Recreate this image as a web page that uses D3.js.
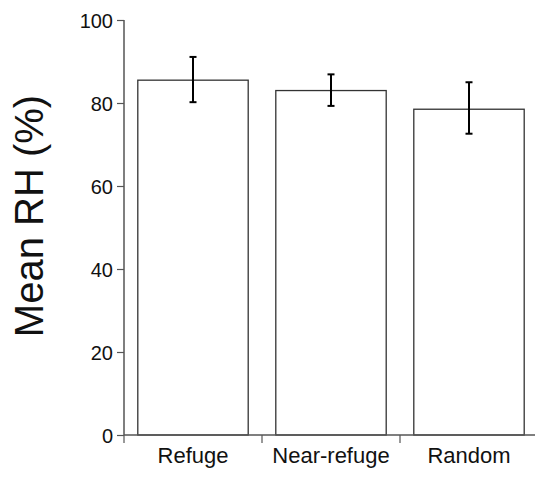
<!DOCTYPE html>
<html>
<head>
<meta charset="utf-8">
<script src="https://cdn.jsdelivr.net/npm/d3@7"></script>
<style>
	body { margin: 0; background: #fff; }
	svg text { font-family: 'Liberation Sans', Arial, Helvetica, sans-serif; fill: #111; }
</style>
</head>
<body>
<svg id="chart" width="535" height="478"></svg>
<script>
const categories = ['Refuge', 'Near-refuge', 'Random']
const means = [85.5, 83.0, 78.5]
const errLow = [80.2, 79.3, 72.6]
const errHigh = [91.1, 86.9, 85.0]
const yTicks = [0, 20, 40, 60, 80, 100]

const svg = d3.select('#chart')
const margin = { left: 124, top: 20, right: -3, bottom: 43 }
const width = 535
const height = 478

const x = d3.scaleBand()
	.domain(categories)
	.range([margin.left, width - margin.right])
	.paddingInner(0.2)
	.paddingOuter(0.1)

const y = d3.scaleLinear()
	.domain([0, 100])
	.range([height - margin.bottom, margin.top])

const data = categories.map((c, i) => ({ cat: c, mean: means[i], lo: errLow[i], hi: errHigh[i] }))

// bars
svg.selectAll('.bar')
	.data(data)
	.enter()
	.append('rect')
	.attr('class', 'bar')
	.attr('x', d => x(d.cat))
	.attr('y', d => y(d.mean))
	.attr('width', x.bandwidth())
	.attr('height', d => y(0) - y(d.mean))
	.attr('fill', '#fff')
	.attr('stroke', '#333')
	.attr('stroke-width', 1.3)

// error bars
const err = svg.selectAll('.err')
	.data(data)
	.enter()
	.append('g')
	.attr('class', 'err')
	.attr('transform', d => 'translate(' + (x(d.cat) + x.bandwidth()/2) + ',0)')
	.attr('stroke', '#000')
	.attr('stroke-width', 2)

err.append('line')
	.attr('y1', d => y(d.lo))
	.attr('y2', d => y(d.hi))
err.append('line')
	.attr('x1', -3.5).attr('x2', 3.5)
	.attr('y1', d => y(d.hi)).attr('y2', d => y(d.hi))
err.append('line')
	.attr('x1', -3.5).attr('x2', 3.5)
	.attr('y1', d => y(d.lo)).attr('y2', d => y(d.lo))

// y axis
const yAxis = svg.append('g')
	.attr('transform', 'translate(' + margin.left + ',0)')
	.call(d3.axisLeft(y).tickValues(yTicks).tickSize(7).tickPadding(4))
yAxis.select('.domain').attr('stroke', '#555').attr('stroke-width', 1.5).attr('d', 'M0,' + y(100) + 'V' + y(0))
yAxis.selectAll('.tick line').attr('stroke', '#555').attr('stroke-width', 1.2)
yAxis.selectAll('.tick text').style('font-size', '20px').attr('dy', '0.35em')

// x axis: band edge ticks
const xAxisG = svg.append('g')
	.attr('transform', 'translate(0,' + y(0) + ')')
xAxisG.append('line')
	.attr('x1', margin.left).attr('x2', width)
	.attr('stroke', '#555').attr('stroke-width', 1.5)

const step = x.step()
const edges = d3.range(categories.length).map(i => margin.left + i * step)
xAxisG.selectAll('.edge')
	.data(edges)
	.enter()
	.append('line')
	.attr('x1', d => d).attr('x2', d => d)
	.attr('y1', 0).attr('y2', 8)
	.attr('stroke', '#555').attr('stroke-width', 1.2)

xAxisG.selectAll('.xlabel')
	.data(categories)
	.enter()
	.append('text')
	.attr('x', d => x(d) + x.bandwidth()/2)
	.attr('y', 28)
	.attr('text-anchor', 'middle')
	.style('font-size', '22px')
	.text(d => d)

// y title
svg.append('text')
	.attr('transform', 'translate(43,216) rotate(-90)')
	.attr('text-anchor', 'middle')
	.style('font-size', '40px')
	.text('Mean RH (%)')
</script>
</body>
</html>
